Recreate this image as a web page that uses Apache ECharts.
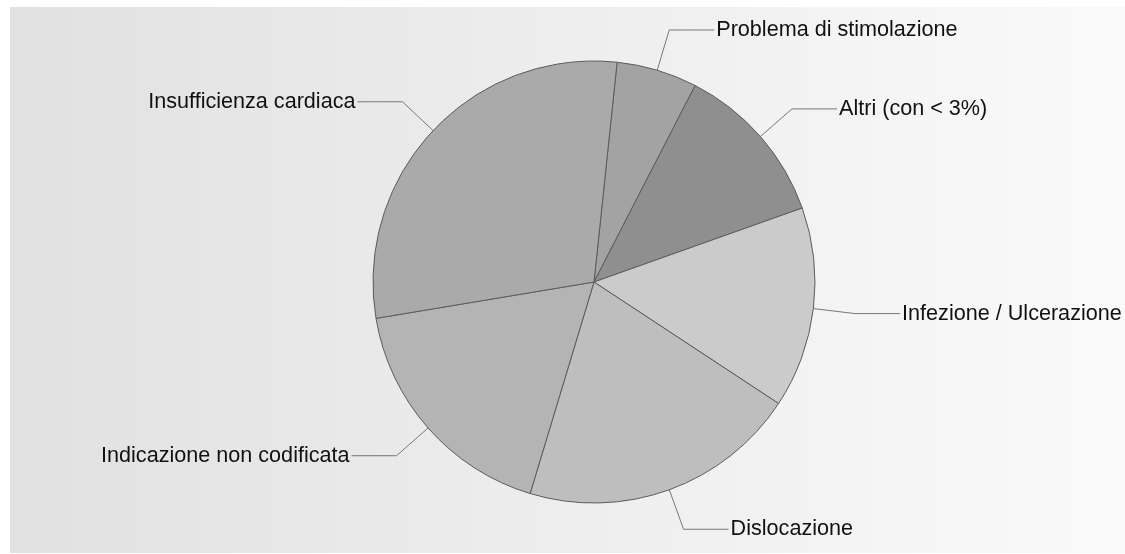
<!DOCTYPE html>
<html>
<head>
<meta charset="utf-8">
<script src="https://cdn.jsdelivr.net/npm/echarts@6/dist/echarts.min.js"></script>
<style>
  html, body { margin: 0; padding: 0; background: #fff; }
  #chart { width: 1125px; height: 554px; }
</style>
</head>
<body>
<div id="chart"></div>
<script>
// categorie in ordine orario partendo dall'alto
var categories = [
  'Problema di stimolazione',
  'Altri (con < 3%)',
  'Infezione / Ulcerazione',
  'Dislocazione',
  'Indicazione non codificata',
  'Insufficienza cardiaca'
];
// percentuali
var values = [5.9, 12.0, 14.7, 20.4, 17.7, 29.3];
var colors = ['#a3a3a3', '#8f8f8f', '#cbcbcb', '#bebebe', '#b4b4b4', '#aaaaaa'];

var chart = echarts.init(document.getElementById('chart'), null, { renderer: 'canvas' });

var data = categories.map(function (name, i) {
  return { name: name, value: values[i], itemStyle: { color: colors[i] } };
});

var option = {
  backgroundColor: '#ffffff',
  animation: false,
  graphic: [{
    type: 'rect',
    z: -1,
    silent: true,
    shape: { x: 10, y: 7, width: 1115, height: 546 },
    style: {
      fill: new echarts.graphic.LinearGradient(0, 0, 1, 0, [
        { offset: 0, color: '#e1e1e1' },
        { offset: 1, color: '#fafafa' }
      ])
    }
  }],
  series: [{
    type: 'pie',
    center: [594, 282],
    radius: 221,
    startAngle: 84,
    clockwise: true,
    avoidLabelOverlap: false,
    itemStyle: {
      borderColor: '#5c5c5c',
      borderWidth: 1
    },
    label: {
      show: true,
      position: 'outside',
      color: '#111111',
      fontFamily: '"Liberation Sans", Arial, sans-serif',
      fontSize: 21.6,
      distanceToLabelLine: 2,
      formatter: '{b}'
    },
    labelLine: {
      show: true,
      length: 42,
      length2: 45,
      lineStyle: { color: '#777777', width: 1 }
    },
    emphasis: { disabled: true },
    data: data
  }]
};

chart.setOption(option);
</script>
</body>
</html>
